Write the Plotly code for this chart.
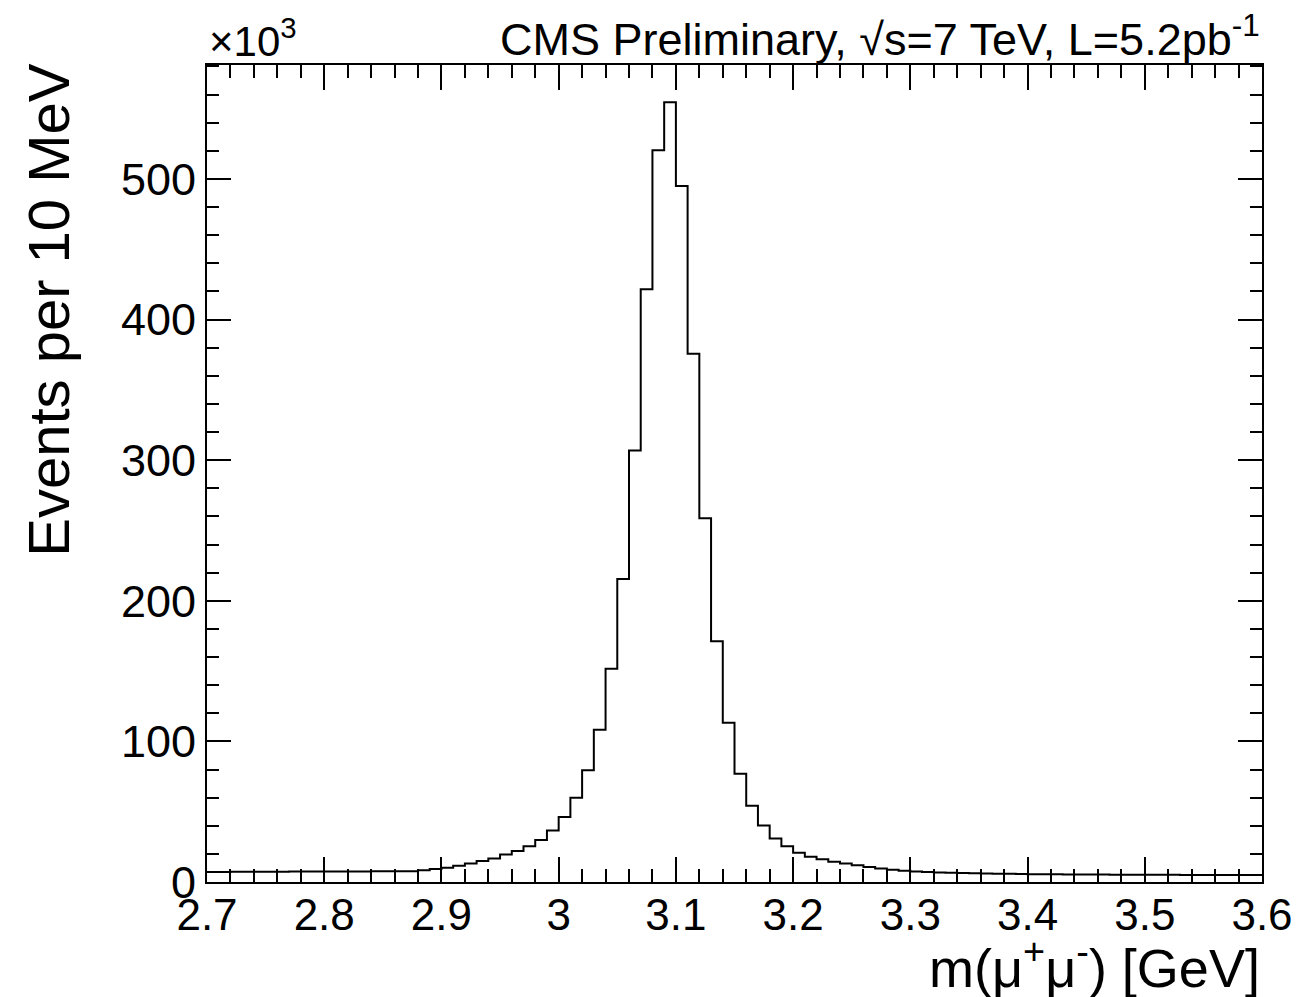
import plotly.graph_objects as go

# Histogram of m(mu+mu-) with 10 MeV bins, counts in units of 10^3 events
bin_low = 2.70
bin_width = 0.01
counts_k = [
    # 2.70 - 2.87
    7.2, 7.2, 7.3, 7.3, 7.3, 7.3, 7.3, 7.4, 7.4, 7.4, 7.4, 7.5, 7.5, 7.5, 7.6, 7.6, 7.7, 7.7,
    # 2.88 - 2.99
    8.4, 9.2, 10.2, 11.5, 13.2, 14.9, 16.8, 19.6, 22.0, 25.5, 29.9, 36.7,
    # 3.00 - 3.09
    46.2, 60.0, 79.4, 108.3, 151.7, 215.5, 306.8, 421.5, 520.3, 554.5,
    # 3.10 - 3.19
    495.0, 375.7, 258.7, 171.2, 113.3, 77.0, 54.3, 40.2, 31.0, 25.4,
    # 3.20 - 3.29
    20.8, 18.0, 16.1, 14.4, 13.2, 11.9, 10.7, 9.6, 8.7, 8.0,
    # 3.30 - 3.39
    7.5, 7.1, 6.8, 6.6, 6.4, 6.2, 6.0, 5.9, 5.8, 5.7,
    # 3.40 - 3.49
    5.6, 5.5, 5.5, 5.4, 5.4, 5.3, 5.3, 5.2, 5.2, 5.2,
    # 3.50 - 3.59
    5.1, 5.1, 5.1, 5.0, 5.0, 5.0, 5.0, 4.9, 4.9, 4.9,
]
x_tick_vals = [2.7, 2.8, 2.9, 3.0, 3.1, 3.2, 3.3, 3.4, 3.5, 3.6]
x_tick_text = ["2.7", "2.8", "2.9", "3", "3.1", "3.2", "3.3", "3.4", "3.5", "3.6"]
y_tick_vals = [0, 100, 200, 300, 400, 500]

edges = [round(bin_low + i * bin_width, 4) for i in range(len(counts_k) + 1)]
step_y = counts_k + [counts_k[-1]]

FONT = "Liberation Sans, Arial, Helvetica, sans-serif"

fig = go.Figure()
fig.add_trace(go.Scatter(
    x=edges, y=step_y, mode="lines", line=dict(shape="hv", color="black", width=2),
    hoverinfo="skip", showlegend=False,
))

fig.update_layout(
    width=1306, height=997,
    margin=dict(l=207, r=44, t=65, b=115),
    plot_bgcolor="white", paper_bgcolor="white",
    font=dict(family=FONT, color="black", size=45),
    showlegend=False,
)

fig.update_xaxes(
    range=[2.7, 3.6], tickvals=x_tick_vals, ticktext=x_tick_text,
    ticks="inside", ticklen=25, tickwidth=2, tickcolor="black",
    minor=dict(ticks="inside", ticklen=13, tickwidth=2, tickcolor="black", dtick=0.02, tick0=2.7),
    showline=True, linecolor="black", linewidth=2, mirror="allticks",
    showgrid=False, zeroline=False,
    tickfont=dict(family=FONT, size=44, color="black"),
    ticklabelstandoff=-7,
)
fig.update_yaxes(
    range=[0, 581], tickvals=y_tick_vals,
    ticks="inside", ticklen=24, tickwidth=2, tickcolor="black",
    minor=dict(ticks="inside", ticklen=12, tickwidth=2, tickcolor="black", dtick=20, tick0=0),
    showline=True, linecolor="black", linewidth=2, mirror="allticks",
    showgrid=False, zeroline=False,
    tickfont=dict(family=FONT, size=45, color="black"),
)

annotations = [
    dict(text="CMS Preliminary, √s=7 TeV, L=5.2pb<sup>-1</sup>", xref="paper", yref="paper",
         x=1.0, y=1.0, xanchor="right", yanchor="bottom", showarrow=False,
         font=dict(family=FONT, size=45, color="black"), yshift=-2),
    dict(text="×10<sup>3</sup>", xref="paper", yref="paper",
         x=0.0, y=1.0, xanchor="left", yanchor="bottom", showarrow=False,
         font=dict(family=FONT, size=42, color="black"), yshift=-2),
    dict(text="Events per 10 MeV", xref="paper", yref="paper",
         x=-0.151, y=0.70, xanchor="center", yanchor="middle", textangle=-90, showarrow=False,
         font=dict(family=FONT, size=58, color="black")),
    dict(text="m(μ<sup>+</sup>μ<sup>-</sup>) [GeV]", xref="paper", yref="paper",
         x=1.0, y=-0.100, xanchor="right", yanchor="middle", showarrow=False,
         font=dict(family=FONT, size=54, color="black")),
]
fig.update_layout(annotations=annotations)

fig.write_html("out.html")
